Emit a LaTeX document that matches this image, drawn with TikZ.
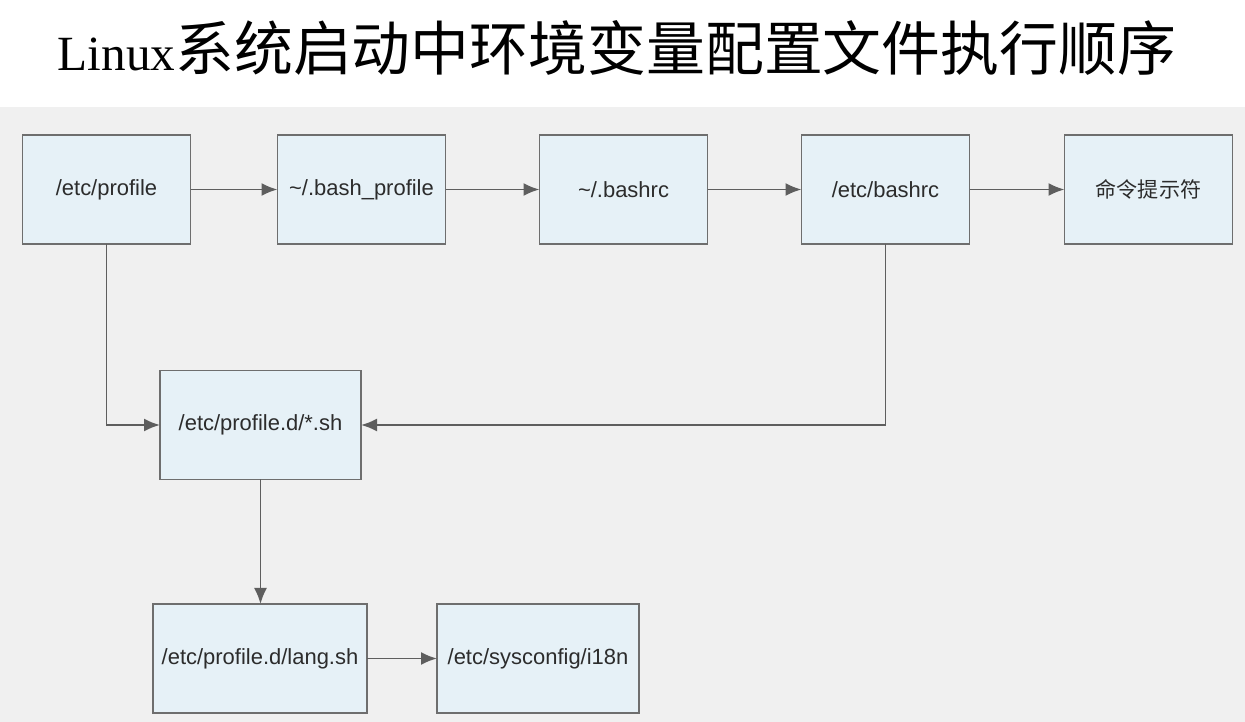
\documentclass[tikz,border=0pt]{standalone}
\usepackage{fontspec}
\setmainfont{Liberation Serif}
\newfontfamily\cjk{Noto Sans CJK SC}
\newfontfamily\boxfont{Liberation Sans}
\usepackage{xcolor}
\usepackage{tikz}
\usetikzlibrary{arrows.meta,positioning,calc}
\definecolor{panel}{HTML}{F0F0F0}
\definecolor{boxfill}{HTML}{E6F1F7}
\definecolor{boxline}{HTML}{6E6E6E}
\definecolor{arrowline}{HTML}{5E5E5E}
\definecolor{boxtext}{HTML}{2C2C2C}
\tikzstyle{line} = [draw=arrowline, line width=1.1pt, -{Latex[length=3.2mm,width=2.6mm]}]
\tikzstyle{file} = [rectangle, draw=boxline, fill=boxfill, line width=1.1pt, outer sep=0pt, text=boxtext, font=\boxfont\fontsize{12.5}{14}\selectfont, text centered, minimum width=3.36cm, minimum height=2.18cm, inner sep=0pt]
\tikzstyle{file_wide} = [file, minimum width=4.02cm]

\begin{document}
\begin{tikzpicture}[node distance=0cm]

\useasboundingbox (0,0) rectangle (24.9,-14.44);
\fill [panel] (0,-2.14) rectangle (24.9,-14.44);

\node (title) at (12.34,-0.96) {{\fontsize{28}{32}\selectfont Linux}{\cjk\fontsize{33.5}{36}\selectfont 系统启动中环境变量配置文件执行顺序}};

\node [file] (1) at (2.13,-3.79) {/etc/profile};
\node [file, right=1.74cm of 1] (2) {\textasciitilde/.bash\_profile};
\node [file, right=1.88cm of 2] (3) {\textasciitilde/.bashrc};
\node [file, right=1.88cm of 3] (4) {/etc/bashrc};
\node [file, right=1.90cm of 4] (5) {\cjk\fontsize{12}{14}\selectfont 命令提示符};

\node [file_wide] (6) at (5.21,-8.5) {/etc/profile.d/*.sh};
\node [file_wide, minimum width=4.28cm] (7) at (5.2,-13.17) {/etc/profile.d/lang.sh};
\node [file_wide, minimum width=4.04cm] (8) at (10.76,-13.17) {/etc/sysconfig/i18n};

\path [line] (1) -- (2);
\path [line] (2) -- (3);
\path [line] (3) -- (4);
\path [line] (4) -- (5);

\path [line] (1) |- (6);
\path [line] (4) |- (6);

\path [line] (6) -- (6 |- 7.north);
\path [line] (7) -- (8);

\end{tikzpicture}
\end{document}
